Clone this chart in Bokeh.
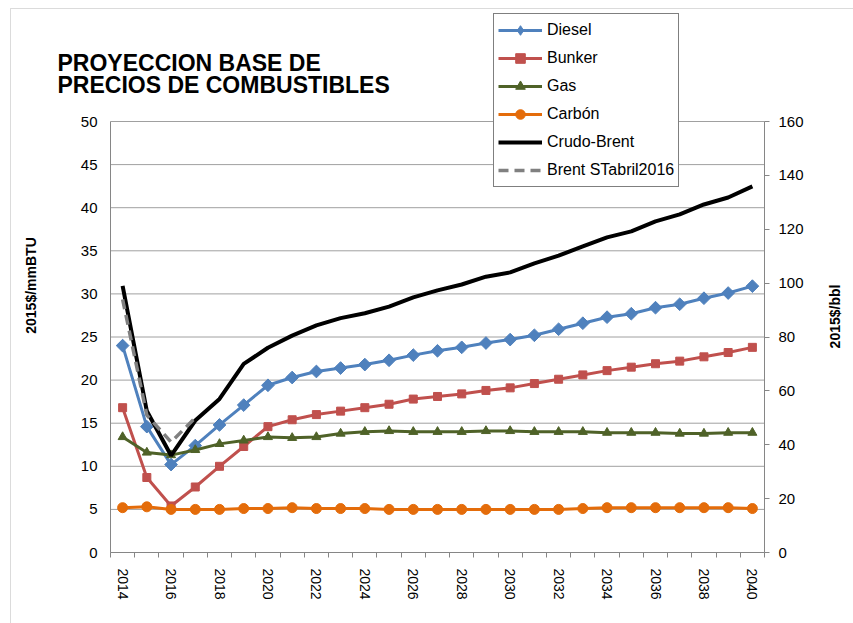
import math
from bokeh.plotting import figure
from bokeh.models import (Range1d, LinearAxis, FixedTicker, Legend, LegendItem,
                          Label, BoxAnnotation)
from bokeh.embed import file_html
from bokeh.resources import INLINE

years = list(range(2014, 2041))
diesel = [24.0, 14.6, 10.2, 12.4, 14.8, 17.1, 19.4, 20.3, 21.0, 21.4, 21.8, 22.3, 22.9, 23.4,
          23.8, 24.3, 24.7, 25.2, 25.9, 26.6, 27.3, 27.7, 28.4, 28.8, 29.5, 30.1, 30.9]
bunker = [16.8, 8.7, 5.4, 7.6, 10.0, 12.3, 14.6, 15.4, 16.0, 16.4, 16.8, 17.2, 17.8, 18.1,
          18.4, 18.8, 19.1, 19.6, 20.1, 20.6, 21.1, 21.5, 21.9, 22.2, 22.7, 23.2, 23.8]
gas = [13.4, 11.6, 11.3, 11.9, 12.6, 13.0, 13.4, 13.3, 13.4, 13.8, 14.0, 14.1, 14.0, 14.0,
       14.0, 14.1, 14.1, 14.0, 14.0, 14.0, 13.9, 13.9, 13.9, 13.8, 13.8, 13.9, 13.9]
carbon = [5.2, 5.3, 5.0, 5.0, 5.0, 5.1, 5.1, 5.2, 5.1, 5.1, 5.1, 5.0, 5.0, 5.0,
          5.0, 5.0, 5.0, 5.0, 5.0, 5.1, 5.2, 5.2, 5.2, 5.2, 5.2, 5.2, 5.1]
brent = [99.0, 52.5, 36.0, 49.0, 57.0, 70.0, 76.0, 80.5, 84.3, 87.0, 88.8, 91.3, 94.7, 97.3,
         99.5, 102.4, 104.0, 107.3, 110.2, 113.6, 117.0, 119.2, 122.9, 125.5, 129.2, 131.8, 135.9]
years_st = [2014, 2015, 2016, 2017]
brent_st = [94.0, 51.0, 41.0, 50.0]

year_ticks = list(range(2014, 2041, 2))
left_ticks = list(range(0, 51, 5))
right_ticks = list(range(0, 161, 20))

title_lines = ["PROYECCION BASE DE", "PRECIOS DE COMBUSTIBLES"]
left_label = "2015$/mmBTU"
right_label = "2015$/bbl"

FONT = "Liberation Sans"
AXIS_COLOR = "#868686"
GRID_COLOR = "#a0a0a0"

# ---- layout geometry (pixels) ----
W, H = 853, 623
PL, PR, PT, PB = 110, 764, 121, 552      # plot-area edges in the window

x_lo, x_hi = years[0] - 0.5, years[-1] + 0.5
y_lo, y_hi = left_ticks[0], left_ticks[-1]
r_lo, r_hi = right_ticks[0], right_ticks[-1]

xpp = (x_hi - x_lo) / (PR - PL)
ypp = (y_hi - y_lo) / (PB - PT)
rpp = (r_hi - r_lo) / (PB - PT)

p = figure(width=W, height=H, output_backend="svg", toolbar_location=None,
           x_range=Range1d(x_lo - PL * xpp, x_hi + (W - PR) * xpp),
           y_range=Range1d(y_lo - (H - PB) * ypp, y_hi + PT * ypp),
           x_axis_location=None, y_axis_location=None,
           min_border=0, background_fill_color="white", border_fill_color="white")
p.outline_line_color = None
p.xgrid.visible = False
p.ygrid.visible = False
p.extra_y_ranges = {"bbl": Range1d(r_lo - (H - PB) * rpp, r_hi + PT * rpp)}

# gridlines (horizontal, from the left ticks)
p.segment(x0=[x_lo] * len(left_ticks), x1=[x_hi] * len(left_ticks),
          y0=left_ticks, y1=left_ticks, line_color=GRID_COLOR, line_width=1)

# x axis
xa = LinearAxis(fixed_location=y_lo, bounds=(x_lo, x_hi))
xa.ticker = FixedTicker(ticks=year_ticks,
                        minor_ticks=[y - 0.5 for y in years] + [years[-1] + 0.5])
xa.major_tick_out = 0
xa.major_tick_in = 0
xa.minor_tick_out = 5
xa.minor_tick_in = 0
xa.minor_tick_line_color = AXIS_COLOR
xa.axis_line_color = AXIS_COLOR
xa.major_label_orientation = "vertical"
xa.major_label_standoff = 11
xa.major_label_text_font = FONT
xa.major_label_text_font_size = "14px"
xa.major_label_text_color = "black"
p.add_layout(xa, "below")

# left axis
ya = LinearAxis(fixed_location=x_lo, bounds=(y_lo, y_hi),
                ticker=FixedTicker(ticks=left_ticks))
ya.major_tick_out = 0
ya.major_tick_in = 0
ya.minor_tick_line_color = None
ya.axis_line_color = AXIS_COLOR
ya.major_label_standoff = 13
ya.major_label_text_font = FONT
ya.major_label_text_font_size = "15px"
ya.major_label_text_color = "black"
p.add_layout(ya, "left")

# right axis
ra = LinearAxis(y_range_name="bbl", fixed_location=x_hi, bounds=(r_lo, r_hi),
                ticker=FixedTicker(ticks=right_ticks))
ra.major_tick_out = 5
ra.major_tick_in = 0
ra.major_tick_line_color = AXIS_COLOR
ra.minor_tick_line_color = None
ra.axis_line_color = AXIS_COLOR
ra.major_label_standoff = 9
ra.major_label_text_font = FONT
ra.major_label_text_font_size = "15px"
ra.major_label_text_color = "black"
p.add_layout(ra, "right")

# series
c_diesel = "#4F81BD"
c_bunker = "#C0504D"
c_gas = "#4F6228"
c_carbon = "#E46C0A"

l1 = p.line(years, diesel, line_color=c_diesel, line_width=3)
# diamond swatch for the legend (sits hidden under the first rotated-square marker)
m1_leg = p.scatter(years[:1], diesel[:1], marker="diamond", size=12,
                   fill_color=c_diesel, line_color=c_diesel)
m1 = p.scatter(years, diesel, marker="square", angle=math.pi / 4, size=9,
               fill_color=c_diesel, line_color=c_diesel)
l2 = p.line(years, bunker, line_color=c_bunker, line_width=3)
m2 = p.scatter(years, bunker, marker="square", size=8,
               fill_color=c_bunker, line_color=c_bunker)
l3 = p.line(years, gas, line_color=c_gas, line_width=3)
m3 = p.scatter(years, gas, marker="triangle", size=9,
               fill_color=c_gas, line_color=c_gas)
l4 = p.line(years, carbon, line_color=c_carbon, line_width=3)
m4 = p.scatter(years, carbon, marker="circle", size=10,
               fill_color=c_carbon, line_color=c_carbon)
l5 = p.line(years, brent, line_color="black", line_width=4, y_range_name="bbl")
l6 = p.line(years_st, brent_st, line_color="#808080", line_width=3.5,
            line_dash="10 6", y_range_name="bbl")

legend = Legend(items=[
    LegendItem(label="Diesel", renderers=[l1, m1_leg]),
    LegendItem(label="Bunker", renderers=[l2, m2]),
    LegendItem(label="Gas", renderers=[l3, m3]),
    LegendItem(label="Carbón", renderers=[l4, m4]),
    LegendItem(label="Crudo-Brent", renderers=[l5]),
    LegendItem(label="Brent STabril2016", renderers=[l6]),
], location=(493, H - 187))
legend.label_text_font = FONT
legend.label_text_font_size = "16px"
legend.label_text_color = "black"
legend.glyph_width = 44
legend.glyph_height = 24
legend.label_height = 24
legend.spacing = 4
legend.padding = 4
legend.margin = 0
legend.label_standoff = 5
legend.border_line_color = "black"
legend.border_line_width = 1
legend.background_fill_color = "white"
legend.background_fill_alpha = 1.0
p.add_layout(legend)

# title
for txt, base in zip(title_lines, [62, 84]):
    p.add_layout(Label(x=57, y=H - base, x_units="screen", y_units="screen",
                       text=txt, text_font=FONT, text_font_size="23px",
                       text_font_style="bold", text_color="black",
                       text_baseline="alphabetic"))

# axis titles
p.add_layout(Label(x=30, y=H - 285, x_units="screen", y_units="screen",
                   text=left_label, angle=math.pi / 2, text_font=FONT,
                   text_font_size="14px", text_font_style="bold", text_color="black",
                   text_align="center", text_baseline="middle"))
p.add_layout(Label(x=834, y=H - 316, x_units="screen", y_units="screen",
                   text=right_label, angle=math.pi / 2, text_font=FONT,
                   text_font_size="14px", text_font_style="bold", text_color="black",
                   text_align="center", text_baseline="middle"))

# outer chart border
p.add_layout(BoxAnnotation(left=10, right=W + 20, top=H - 8, bottom=-20,
                           left_units="screen", right_units="screen",
                           top_units="screen", bottom_units="screen",
                           fill_alpha=0, line_color="#888888", line_width=1))

open("out.html", "w").write(file_html(p, INLINE))
